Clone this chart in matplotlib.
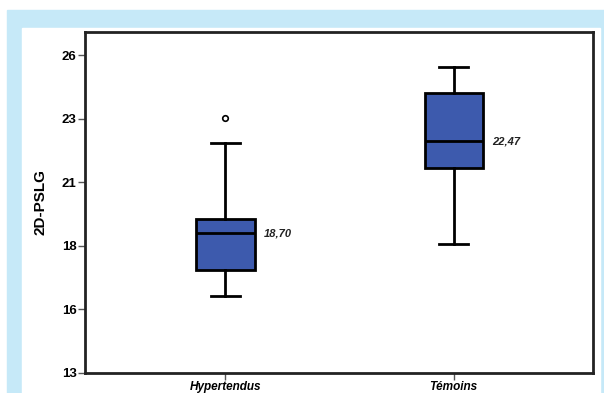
import matplotlib.pyplot as plt
from matplotlib.patches import Rectangle

# values
groups = ['Hypertendus', 'Témoins']
q1 = [17.18, 21.37]
medians = [18.70, 22.47]
q3 = [19.30, 24.46]
whisker_low = [16.15, 18.26]
whisker_high = [22.42, 25.52]
outliers = [[23.41], []]
median_labels = ['18,70', '22,47']

y_ticks = [13, 15.6, 18.2, 20.8, 23.4, 26]
y_tick_labels = ['13', '16', '18', '21', '23', '26']

box_color = '#3d5aad'
plt.rcParams['font.family'] = ['Liberation Sans', 'DejaVu Sans']

fig = plt.figure(figsize=(6.04, 3.93), dpi=100)
W, H = 604, 393
# light blue frame and white panel behind the chart
fig.patches.append(Rectangle((7 / W, 0), 1, 1 - 10 / H, transform=fig.transFigure,
                             color='#c6e9f8', zorder=-2))
fig.patches.append(Rectangle((22 / W, 0), (600 - 22) / W, 1 - 28 / H,
                             transform=fig.transFigure, color='white', zorder=-1))

ax = fig.add_axes([85 / W, 20.5 / H, (593 - 85) / W, (372.5 - 32) / H])
ax.set_facecolor('white')

stats = []
for i, g in enumerate(groups):
    stats.append({'label': g, 'q1': q1[i], 'med': medians[i], 'q3': q3[i],
                  'whislo': whisker_low[i], 'whishi': whisker_high[i],
                  'fliers': outliers[i]})

ax.bxp(stats, positions=[1, 2], widths=0.255, patch_artist=True, capwidths=0.125,
       boxprops=dict(facecolor=box_color, edgecolor='black', linewidth=2),
       medianprops=dict(color='black', linewidth=2),
       whiskerprops=dict(color='black', linewidth=2),
       capprops=dict(color='black', linewidth=2),
       flierprops=dict(marker='o', markersize=4, markerfacecolor='white',
                       markeredgecolor='black', markeredgewidth=1.2))

for i, lab in enumerate(median_labels):
    ax.text(i + 1 + 0.17, medians[i], lab, fontsize=8, fontweight='bold',
            fontstyle='italic', va='center', ha='left', color='#222222')

ax.set_xlim(0.385, 2.61)
ax.set_ylim(13, 26.95)
ax.set_yticks(y_ticks)
ax.set_yticklabels(y_tick_labels, fontsize=9.5, fontweight='bold')
ax.set_xticks([1, 2])
ax.set_xticklabels(groups, fontsize=8.5, fontweight='bold', fontstyle='italic')
ax.tick_params(axis='both', length=5, width=1, color='#555555', pad=1)
ax.set_ylabel('2D-PSLG', fontsize=11, fontweight='bold', labelpad=10)

for s in ax.spines.values():
    s.set_linewidth(2)
    s.set_color('#222222')

fig.savefig('out.png', dpi=100)
